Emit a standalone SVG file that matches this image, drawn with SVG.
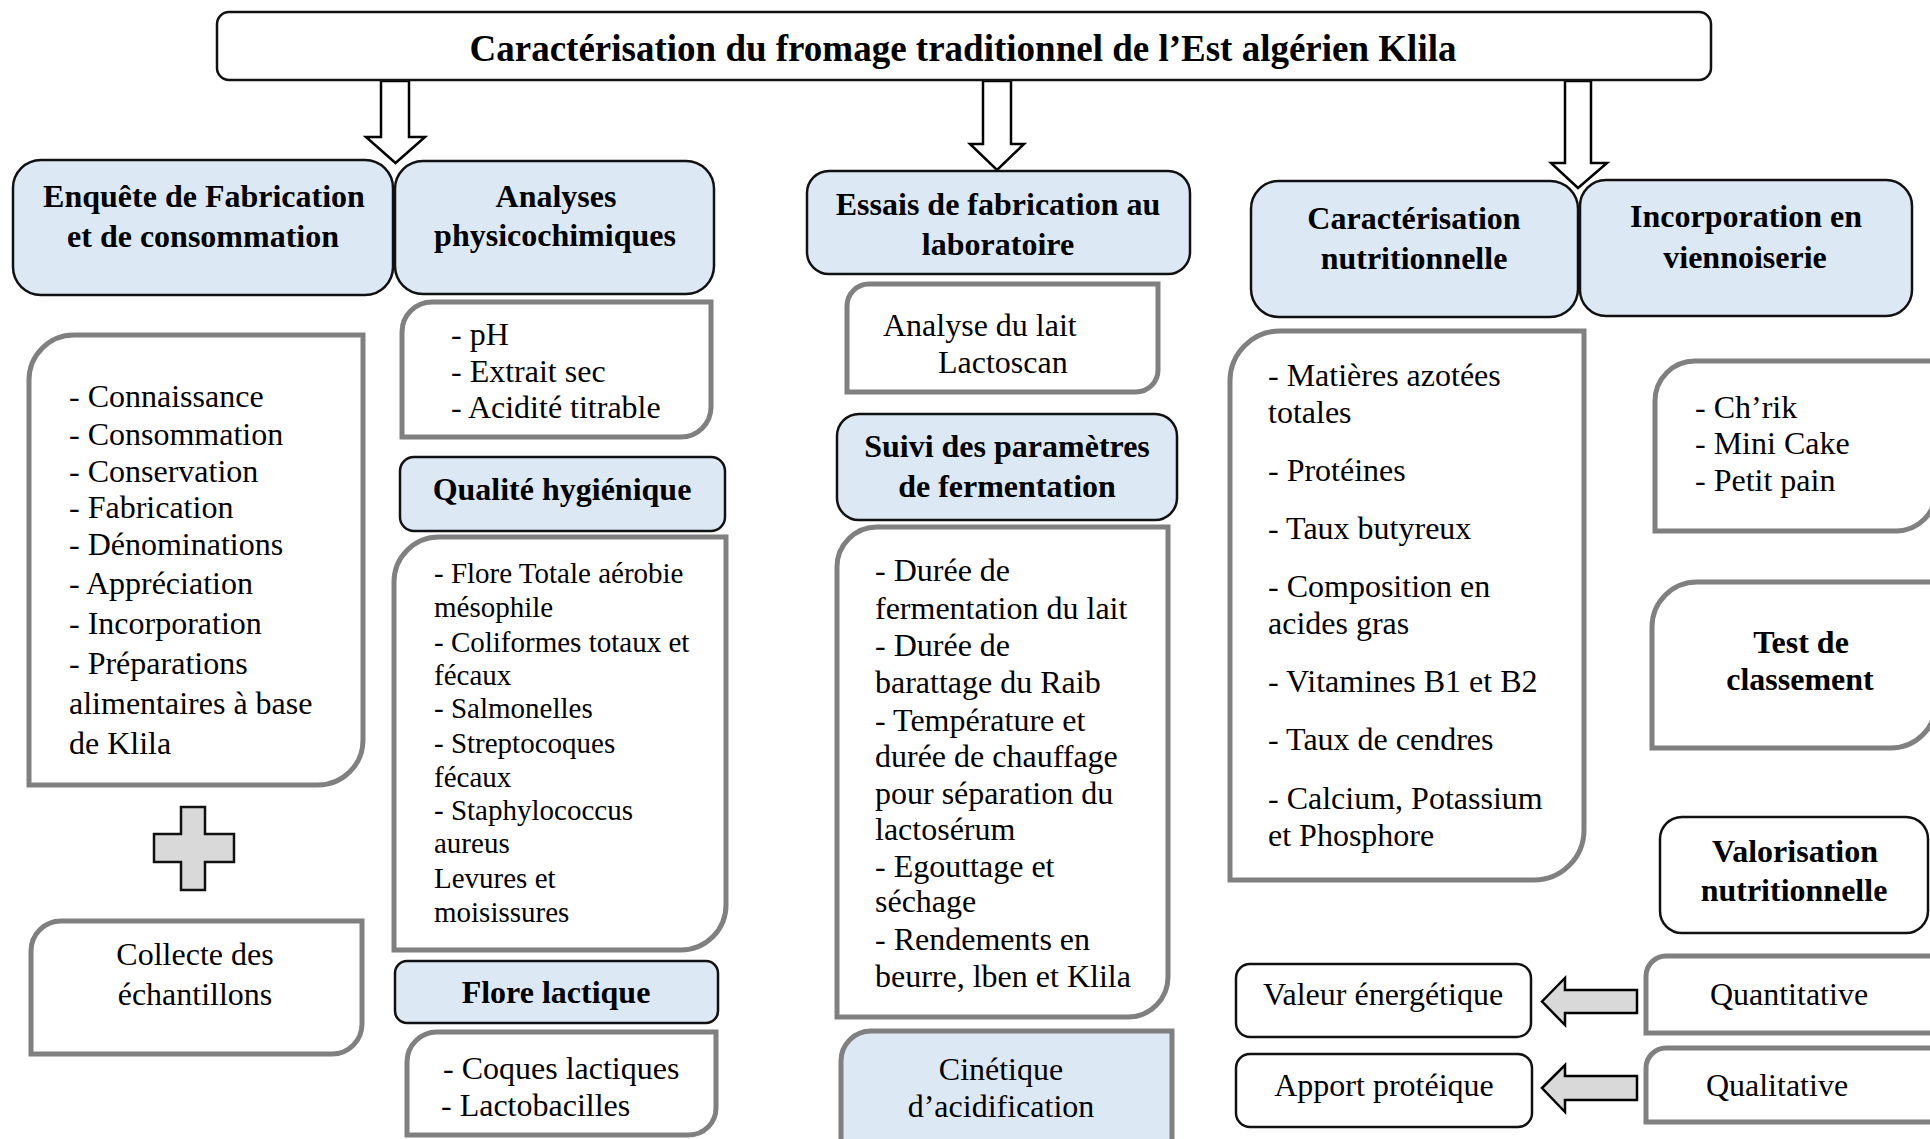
<svg xmlns="http://www.w3.org/2000/svg" width="1930" height="1139" viewBox="0 0 1930 1139">
<style>
.bg{fill:#fff}
.hdr{fill:#DDE8F5;stroke:#111;stroke-width:2.5}
.wbox{fill:#fff;stroke:#111;stroke-width:2.5}
.gbox{fill:#fff;stroke:#808080;stroke-width:5}
.gblue{fill:#DDE8F5;stroke:#808080;stroke-width:5}
.arr{fill:#fff;stroke:#000;stroke-width:2.5;stroke-linejoin:miter}
.garr{fill:#D9D9D9;stroke:#000;stroke-width:2.5;stroke-linejoin:miter}
text{font-family:"Liberation Serif","Times New Roman",serif;font-size:32px;fill:#000}
.b{font-weight:bold}
.c{text-anchor:middle}
.s{font-size:29px}
.t{font-size:37px;font-weight:bold}
</style>
<rect class="bg" x="0" y="0" width="1930" height="1139"/>

<g id="connectors">
<polygon class="arr" points="381,81 409,81 409,137 425,137 395.5,163 366,137 381,137"/>
<polygon class="arr" points="983,81 1011,81 1011,144 1024,144 997,170 970,144 983,144"/>
<polygon class="arr" points="1565,81 1591,81 1591,163 1607,163 1578,188 1551,163 1565,163"/>
<polygon class="garr" points="1542,1001.5 1565,978 1565,990 1637,990 1637,1013 1565,1013 1565,1025"/>
<polygon class="garr" points="1542,1088 1565,1065 1565,1076 1637,1076 1637,1100 1565,1100 1565,1112"/>
</g>

<g id="title">
<rect class="wbox" x="217" y="12" width="1494" height="68" rx="12"/>
<text class="t c" x="963" y="61">Caractérisation du fromage traditionnel de l’Est algérien Klila</text>
</g>

<g id="enquete">
<rect class="hdr" x="13" y="160" width="380" height="135" rx="28"/>
<text class="b c" x="204" y="207">Enquête de Fabrication</text>
<text class="b c" x="203" y="247">et de consommation</text>
</g>

<g id="analyses">
<rect class="hdr" x="395" y="161" width="319" height="133" rx="28"/>
<text class="b c" x="556" y="207">Analyses</text>
<text class="b c" x="555" y="246">physicochimiques</text>
</g>

<g id="essais">
<rect class="hdr" x="807" y="171" width="383" height="103" rx="22"/>
<text class="b c" x="998" y="215">Essais de fabrication au</text>
<text class="b c" x="998" y="255">laboratoire</text>
</g>

<g id="caracterisation">
<rect class="hdr" x="1251" y="181" width="327" height="136" rx="28"/>
<text class="b c" x="1414" y="229">Caractérisation</text>
<text class="b c" x="1414" y="269">nutritionnelle</text>
</g>

<g id="incorporation">
<rect class="hdr" x="1580" y="180" width="332" height="136" rx="26"/>
<text class="b c" x="1746" y="227">Incorporation en</text>
<text class="b c" x="1745" y="268">viennoiserie</text>
</g>

<g id="enquete-items">
<path class="gbox" d="M74,335 H363 V740 A45,45 0 0 1 318,785 H29 V380 A45,45 0 0 1 74,335 Z"/>
<text x="69" y="407">- Connaissance</text>
<text x="69" y="445">- Consommation</text>
<text x="69" y="482">- Conservation</text>
<text x="69" y="518">- Fabrication</text>
<text x="69" y="555">- Dénominations</text>
<text x="69" y="594">- Appréciation</text>
<text x="69" y="634">- Incorporation</text>
<text x="69" y="674">- Préparations</text>
<text x="69" y="714">alimentaires à base</text>
<text x="69" y="754">de Klila</text>
</g>

<g id="plus">
<polygon points="181,807 205,807 205,834 234,834 234,862 205,862 205,890 181,890 181,862 154,862 154,834 181,834" fill="#D9D9D9" stroke="#111" stroke-width="2.5"/>
</g>

<g id="collecte">
<path class="gbox" d="M61,921 H362 V1024 A30,30 0 0 1 332,1054 H31 V951 A30,30 0 0 1 61,921 Z"/>
<text class="c" x="195" y="965">Collecte des</text>
<text class="c" x="195" y="1005">échantillons</text>
</g>

<g id="physico-items">
<path class="gbox" d="M432,302 H711 V407 A30,30 0 0 1 681,437 H402 V332 A30,30 0 0 1 432,302 Z"/>
<text x="451" y="345">- pH</text>
<text x="451" y="382">- Extrait sec</text>
<text x="451" y="418">- Acidité titrable</text>
</g>

<g id="qualite">
<rect class="hdr" x="400" y="457" width="325" height="74" rx="14"/>
<text class="b c" x="562" y="500">Qualité hygiénique</text>
</g>

<g id="qualite-items">
<path class="gbox" d="M439,537 H726 V905 A45,45 0 0 1 681,950 H394 V582 A45,45 0 0 1 439,537 Z"/>
<text class="s" x="434" y="583">- Flore Totale aérobie</text>
<text class="s" x="434" y="617">mésophile</text>
<text class="s" x="434" y="652">- Coliformes totaux et</text>
<text class="s" x="434" y="685">fécaux</text>
<text class="s" x="434" y="718">- Salmonelles</text>
<text class="s" x="434" y="753">- Streptocoques</text>
<text class="s" x="434" y="787">fécaux</text>
<text class="s" x="434" y="820">- Staphylococcus</text>
<text class="s" x="434" y="853">aureus</text>
<text class="s" x="434" y="888">Levures et</text>
<text class="s" x="434" y="922">moisissures</text>
</g>

<g id="flore-lactique">
<rect class="hdr" x="395" y="961" width="323" height="62" rx="12"/>
<text class="b c" x="556" y="1003">Flore lactique</text>
</g>

<g id="flore-items">
<path class="gbox" d="M437,1032 H716 V1108 A27,27 0 0 1 689,1135 H407 V1062 A30,30 0 0 1 437,1032 Z"/>
<text x="443" y="1079">- Coques lactiques</text>
<text x="441" y="1116">- Lactobacilles</text>
</g>

<g id="analyse-lait">
<path class="gbox" d="M869,284 H1158 V370 A22,22 0 0 1 1136,392 H847 V306 A22,22 0 0 1 869,284 Z"/>
<text x="883" y="336">Analyse du lait</text>
<text x="938" y="373">Lactoscan</text>
</g>

<g id="suivi">
<rect class="hdr" x="837" y="414" width="340" height="106" rx="22"/>
<text class="b c" x="1007" y="457">Suivi des paramètres</text>
<text class="b c" x="1007" y="497">de fermentation</text>
</g>

<g id="suivi-items">
<path class="gbox" d="M877,527 H1168 V977 A40,40 0 0 1 1128,1017 H837 V567 A40,40 0 0 1 877,527 Z"/>
<text x="875" y="581">- Durée de</text>
<text x="875" y="619">fermentation du lait</text>
<text x="875" y="656">- Durée de</text>
<text x="875" y="693">barattage du Raib</text>
<text x="875" y="731">- Température et</text>
<text x="875" y="767">durée de chauffage</text>
<text x="875" y="804">pour séparation du</text>
<text x="875" y="840">lactosérum</text>
<text x="875" y="877">- Egouttage et</text>
<text x="875" y="912">séchage</text>
<text x="875" y="950">- Rendements en</text>
<text x="875" y="987">beurre, lben et Klila</text>
</g>

<g id="cinetique">
<path class="gblue" d="M871,1031 H1172 V1150 H841 V1061 A30,30 0 0 1 871,1031 Z"/>
<text class="c" x="1001" y="1080">Cinétique</text>
<text class="c" x="1001" y="1117">d’acidification</text>
</g>

<g id="nutrition-items">
<path class="gbox" d="M1280,331 H1584 V830 A50,50 0 0 1 1534,880 H1230 V381 A50,50 0 0 1 1280,331 Z"/>
<text x="1268" y="386">- Matières azotées</text>
<text x="1268" y="423">totales</text>
<text x="1268" y="481">- Protéines</text>
<text x="1268" y="539">- Taux butyreux</text>
<text x="1268" y="597">- Composition en</text>
<text x="1268" y="634">acides gras</text>
<text x="1268" y="692">- Vitamines B1 et B2</text>
<text x="1268" y="750">- Taux de cendres</text>
<text x="1268" y="809">- Calcium, Potassium</text>
<text x="1268" y="846">et Phosphore</text>
</g>

<g id="viennoiserie-items">
<path class="gbox" d="M1695,361 H1936 V491 A40,40 0 0 1 1896,531 H1655 V401 A40,40 0 0 1 1695,361 Z"/>
<text x="1695" y="418">- Ch’rik</text>
<text x="1695" y="454">- Mini Cake</text>
<text x="1695" y="491">- Petit pain</text>
</g>

<g id="test-classement">
<path class="gbox" d="M1697,582 H1936 V703 A45,45 0 0 1 1891,748 H1652 V627 A45,45 0 0 1 1697,582 Z"/>
<text class="b c" x="1801" y="653">Test de</text>
<text class="b c" x="1800" y="690">classement</text>
</g>

<g id="valorisation">
<rect class="wbox" x="1660" y="817" width="268" height="116" rx="22"/>
<text class="b c" x="1795" y="862">Valorisation</text>
<text class="b c" x="1794" y="901">nutritionnelle</text>
</g>

<g id="quantitative">
<path class="gbox" d="M1666,956 H1936 V1033 H1646 V976 A20,20 0 0 1 1666,956 Z"/>
<text class="c" x="1789" y="1005">Quantitative</text>
</g>

<g id="qualitative">
<path class="gbox" d="M1666,1048 H1936 V1122 H1646 V1068 A20,20 0 0 1 1666,1048 Z"/>
<text class="c" x="1777" y="1096">Qualitative</text>
</g>

<g id="valeur-energetique">
<rect class="wbox" x="1236" y="964" width="295" height="73" rx="14"/>
<text class="c" x="1383" y="1005">Valeur énergétique</text>
</g>

<g id="apport-proteique">
<rect class="wbox" x="1236" y="1054" width="296" height="73" rx="14"/>
<text class="c" x="1384" y="1096">Apport protéique</text>
</g>
</svg>
